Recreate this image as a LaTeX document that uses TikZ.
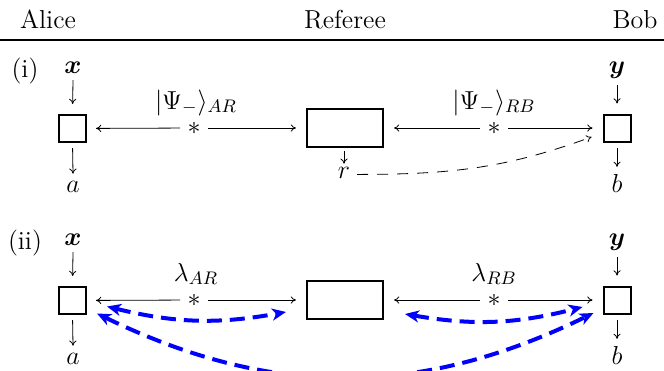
\RequirePackage{fix-cm}
\documentclass[tikz,border=0pt]{standalone}
\usepackage{amsmath,amssymb,bm}
\usetikzlibrary{arrows.meta,calc}
\begin{document}
\begin{tikzpicture}[x=0.5pt,y=-0.5pt,
  every node/.style={font=\fontsize{13}{15.6}\selectfont},
  party/.style={draw, line width=1pt, minimum width=13.5pt, minimum height=13.5pt, inner sep=0pt},
  refbox/.style={draw, line width=1pt, minimum width=38pt, minimum height=19pt, inner sep=0pt},
  starnode/.style={inner sep=0.5pt},
  thinarrow/.style={-{To[length=2.6pt,width=3.6pt]}, line width=0.4pt},
  rdash/.style={-{To[length=2.6pt,width=3.6pt]}, line width=0.4pt, dash pattern=on 5.5pt off 4.5pt},
  bluedash/.style={blue, line width=2pt, dash pattern=on 7.5pt off 4pt,
    {Stealth[length=7pt,width=6pt,inset=2pt]}-{Stealth[length=7pt,width=6pt,inset=2pt]}},
  hdr/.style={anchor=base},
  lbl/.style={anchor=base, inner sep=0.5pt},
]
\useasboundingbox (0,0) rectangle (664,370);
\clip (0,0) rectangle (664,370);

% header
\node[hdr] (alice) at (48,28) {Alice};
\node[hdr] (referee) at (345,28) {Referee};
\node[hdr] (bob) at (635,28) {Bob};
\coordinate (ruleL) at (0,40);
\coordinate (ruleR) at (664,40);
\draw[line width=0.9pt] (ruleL) -- (ruleR);

% ---------- (i) ----------
\node[hdr] (labi) at (25,77) {(i)};
\node[hdr] (x1) at (73,73) {$\boldsymbol{x}$};
\node[hdr] (y1) at (617,73) {$\boldsymbol{y}$};
\node[party] (A1) at (72.5,128.5) {};
\node[refbox] (R1) at (345,128) {};
\node[party] (B1) at (617,128) {};
\node[hdr] (a1) at (73,192) {$a$};
\node[hdr] (b1) at (617,192) {$b$};
\node[starnode] (s1) at (194,128) {$*$};
\node[starnode] (s2) at (494,128) {$*$};
\node[lbl] (l1) at (196,109) {$|\Psi_-\rangle_{AR}$};
\node[lbl] (l2) at (494,109) {$|\Psi_-\rangle_{RB}$};
\node[hdr] (r) at (344,178) {$r$};

\draw[thinarrow, shorten >=5pt] (x1.south) -- (A1.north);
\draw[thinarrow, shorten >=5pt] (y1.south) -- (B1.north);
\draw[thinarrow, shorten <=2.5pt] (A1.south) -- (a1.north);
\draw[thinarrow, shorten <=2.5pt] (B1.south) -- (b1.north);
\draw[thinarrow, shorten <=3pt, shorten >=4.5pt] (s1) -- (A1);
\draw[thinarrow, shorten <=3pt, shorten >=5pt] (s1) -- (R1);
\draw[thinarrow, shorten <=3pt, shorten >=5pt] (s2) -- (R1);
\draw[thinarrow, shorten <=3pt, shorten >=5pt] (s2) -- (B1);
\draw[thinarrow, shorten <=1.5pt, shorten >=-2pt] (R1.south -| r) -- (r.north);
\coordinate (rend) at ($(B1.west)+(-11,9)$);
\draw[rdash] ([yshift=-1pt]r.east) to[out=0, in=200] (rend);

% ---------- (ii) ----------
\node[hdr] (labii) at (25,249) {(ii)};
\node[hdr] (x2) at (73,245) {$\boldsymbol{x}$};
\node[hdr] (y2) at (617,245) {$\boldsymbol{y}$};
\node[party] (A2) at (72.5,300.5) {};
\node[refbox] (R2) at (345,300) {};
\node[party] (B2) at (617,300) {};
\node[hdr] (a2) at (73,364) {$a$};
\node[hdr] (b2) at (617,364) {$b$};
\node[starnode] (s3) at (194,300) {$*$};
\node[starnode] (s4) at (494,300) {$*$};
\node[lbl] (l3) at (196,281) {$\lambda_{AR}$};
\node[lbl] (l4) at (494,281) {$\lambda_{RB}$};

\draw[thinarrow, shorten >=5pt] (x2.south) -- (A2.north);
\draw[thinarrow, shorten >=5pt] (y2.south) -- (B2.north);
\draw[thinarrow, shorten <=2.5pt] (A2.south) -- (a2.north);
\draw[thinarrow, shorten <=2.5pt] (B2.south) -- (b2.north);
\draw[thinarrow, shorten <=3pt, shorten >=4.5pt] (s3) -- (A2);
\draw[thinarrow, shorten <=3pt, shorten >=5pt] (s3) -- (R2);
\draw[thinarrow, shorten <=3pt, shorten >=5pt] (s4) -- (R2);
\draw[thinarrow, shorten <=3pt, shorten >=5pt] (s4) -- (B2);

\coordinate (pA1) at ($(A2.east)+(20,6)$);
\coordinate (pRL) at ($(R2.west)+(-20,12)$);
\coordinate (pRR) at ($(R2.east)+(21,14)$);
\coordinate (pB1) at ($(B2.west)+(-20,7)$);
\coordinate (pA2) at ($(A2.east)+(10,13)$);
\coordinate (pB2) at ($(B2.west)+(-9,13)$);
\draw[bluedash] (pA1) to[bend right=12] (pRL);
\draw[bluedash] (pRR) to[bend right=12] (pB1);
\draw[bluedash] (pA2) to[bend right=26] (pB2);
\end{tikzpicture}
\end{document}
